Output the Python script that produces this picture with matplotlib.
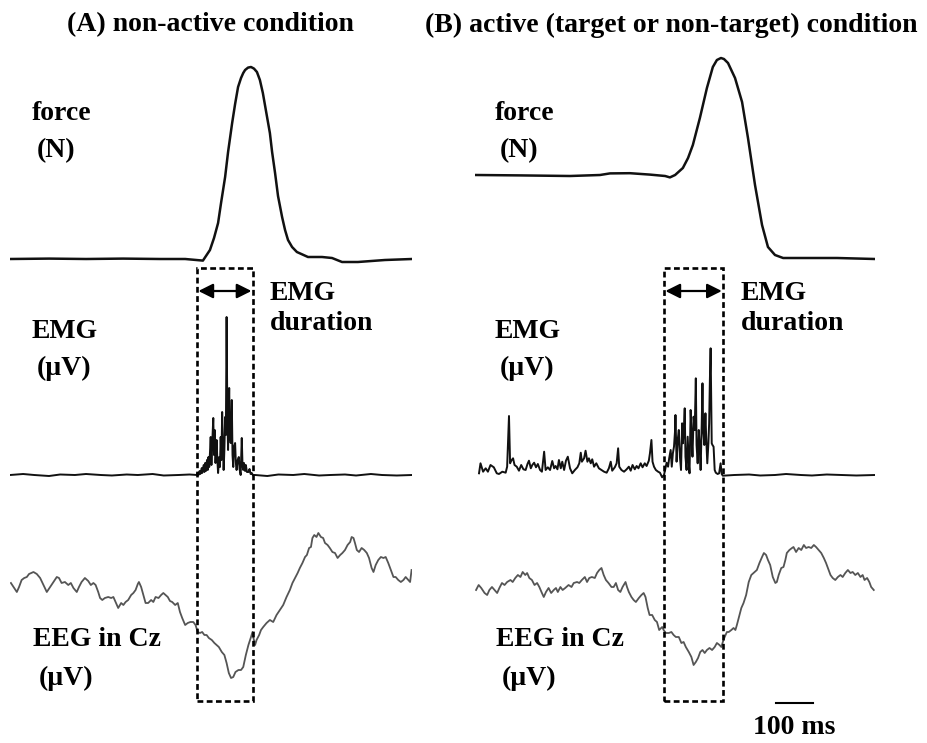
import numpy as np
import matplotlib
matplotlib.use("Agg")
import matplotlib.pyplot as plt
from matplotlib.patches import Rectangle
from matplotlib.transforms import blended_transform_factory

# time in ms relative to EMG onset, force in N, EMG and EEG in uV

# (A) non-active condition
force_a = [(-505, 0.0), (-400, 0.02), (-300, 0.0), (-200, 0.02), (-100, 0.0), (-32, 0.0),
           (16, -0.08), (35, 0.45), (46, 1.05), (57, 1.8), (65, 2.8), (76, 4.1), (84, 5.35),
           (95, 6.8), (103, 7.75), (111, 8.6), (119, 9.05), (125, 9.3), (130, 9.45),
           (138, 9.57), (146, 9.6), (154, 9.52), (162, 9.35), (170, 8.95), (178, 8.3),
           (187, 7.35), (197, 6.3), (203, 5.35), (211, 4.3), (219, 3.15), (230, 2.1),
           (238, 1.45), (246, 0.95), (257, 0.6), (270, 0.35), (300, 0.1), (338, 0.1),
           (365, 0.05), (392, -0.15), (435, -0.15), (508, -0.05), (581, 0.0)]

emg_a = [(-505, 0), (-470, 1), (-440, 0), (-400, -1), (-370, 0.5), (-330, 0), (-300, 1),
         (-260, 0), (-230, -0.5), (-190, 0.5), (-160, 0), (-120, 1), (-90, -0.5), (-50, 0),
         (-20, 0.5), (0, 0), (1, 2), (4, 0), (7, 4), (9, 1), (13, 7), (14, 2), (18, 10),
         (20, 3), (22, 12), (24, 4), (27, 15), (29, 5), (31, 18), (33, 8), (35, 22), (37, 38),
         (39, 10), (41, 30), (44, 57), (46, 20), (48, 45), (50, 12), (53, 35), (55, 15),
         (57, 2), (60, 18), (62, 8), (64, 38), (66, 15), (68, 63), (70, 30), (72, 5), (74, 25),
         (76, 58), (78, 40), (80, 158), (82, 60), (84, 25), (86, 70), (87, 87), (89, 40),
         (91, 32), (93, 55), (94, 75), (96, 20), (98, 8), (100, 28), (103, 32), (105, 12),
         (107, 5), (110, 15), (113, 18), (115, 6), (118, 0), (121, 37), (123, 10), (125, 5),
         (127, 12), (130, 4), (132, 10), (135, 3), (139, 3), (142, 6), (145, 1), (148, 2),
         (151, 0), (157, 0), (190, -1), (220, 0.5), (260, 0), (290, 1), (330, -0.5), (360, 0),
         (400, 0.5), (430, -0.5), (470, 1), (500, 0), (540, -0.5), (581, 0)]

eeg_a = [(-503, 1.7), (-496, 1.3), (-487, 0.8), (-481, 1.3), (-474, 2.0), (-467, 2.2),
         (-460, 2.3), (-454, 2.6), (-442, 2.8), (-433, 2.6), (-424, 2.2), (-415, 1.5),
         (-406, 0.8), (-397, 1.3), (-388, 1.8), (-379, 2.3), (-373, 2.2), (-366, 1.7),
         (-357, 1.8), (-348, 1.5), (-341, 1.7), (-334, 1.2), (-325, 0.8), (-319, 1.3),
         (-312, 1.8), (-303, 2.2), (-294, 1.9), (-287, 1.5), (-280, 1.7), (-274, 1.5),
         (-267, 0.8), (-262, 0.2), (-256, 0.0), (-249, 0.2), (-240, 0.3), (-232, 0.2),
         (-226, 0.3), (-220, -0.2), (-213, -0.8), (-205, -0.3), (-199, -0.5), (-193, -0.2),
         (-186, 0.0), (-178, 0.5), (-172, 0.7), (-166, 1.0), (-160, 1.6), (-157, 1.8),
         (-151, 1.3), (-145, 0.5), (-139, -0.3), (-132, -0.3), (-124, 0.0), (-118, -0.2),
         (-112, 0.3), (-104, 0.2), (-97, 0.5), (-91, 0.7), (-85, 0.5), (-79, 0.3),
         (-73, -0.1), (-67, -0.2), (-59, -0.5), (-52, -0.3), (-46, -1.2), (-40, -1.8),
         (-32, -2.5), (-25, -2.3), (-18, -2.2), (-10, -2.2), (-4, -2.5), (2, -3.2), (8, -3.3),
         (14, -3.2), (20, -3.5), (26, -3.5), (32, -3.8), (40, -4.0), (47, -4.3), (53, -4.5),
         (59, -4.7), (67, -5.2), (74, -5.5), (80, -6.3), (86, -7.3), (92, -7.8), (98, -7.7),
         (104, -7.2), (112, -7.0), (119, -7.0), (125, -6.7), (132, -5.5), (139, -4.5),
         (146, -3.7), (150, -3.2), (152, -3.7), (157, -4.5), (161, -4.0), (168, -3.5),
         (173, -3.0), (179, -2.7), (188, -2.3), (197, -2.0), (206, -2.2), (215, -1.5),
         (224, -1.0), (233, -0.5), (242, 0.3), (251, 1.0), (258, 1.7), (265, 2.2), (272, 2.7),
         (278, 3.2), (285, 3.7), (292, 4.3), (297, 4.5), (303, 5.2), (308, 5.3), (312, 6.2),
         (317, 6.5), (323, 6.3), (328, 6.7), (335, 6.3), (341, 6.2), (346, 5.7), (353, 5.5),
         (359, 5.2), (366, 4.8), (373, 4.7), (380, 4.2), (387, 4.5), (393, 4.7), (400, 5.0),
         (407, 5.5), (414, 5.8), (418, 6.3), (423, 6.2), (427, 5.7), (432, 5.0), (438, 4.8),
         (445, 5.2), (452, 5.0), (459, 4.7), (465, 4.2), (472, 3.2), (477, 2.8), (483, 3.5),
         (490, 4.0), (497, 4.3), (504, 4.2), (510, 4.3), (517, 3.7), (524, 3.0), (531, 2.3),
         (537, 2.3), (544, 2.0), (551, 1.8), (558, 2.0), (564, 2.3), (571, 2.0), (576, 1.8),
         (580, 3.0)]

# (B) active condition
force_b = [(-510, 4.2), (-389, 4.18), (-254, 4.15), (-173, 4.2), (-146, 4.28), (-92, 4.29),
           (-38, 4.22), (3, 4.15), (16, 4.08), (30, 4.2), (51, 4.55), (65, 5.05), (78, 5.7),
           (97, 7.05), (116, 8.55), (132, 9.6), (143, 9.95), (154, 10.05), (162, 10.0),
           (173, 9.8), (192, 9.05), (211, 7.85), (227, 6.05), (246, 3.7), (265, 1.7),
           (281, 0.6), (300, 0.2), (322, 0.05), (376, 0.05), (468, 0.05), (570, 0.0)]

emg_b = [(-500, 1.7), (-496, 11.7), (-489, 3.3), (-482, 6.7), (-476, 3.3), (-469, 10),
         (-460, 7.7), (-452, 1.7), (-446, 1), (-437, 3.3), (-428, 2.3), (-424, 8.3),
         (-419, 59), (-416, 11.7), (-413, 14.3), (-408, 16.7), (-404, 10), (-398, 8.3),
         (-392, 4.3), (-386, 10), (-380, 5.7), (-374, 5), (-369, 11), (-365, 14.3),
         (-360, 6.7), (-356, 10), (-351, 12.3), (-346, 7.7), (-341, 11), (-335, 5),
         (-330, 3.3), (-324, 23.3), (-320, 5), (-314, 7.7), (-308, 5), (-302, 14),
         (-297, 6.7), (-293, 9), (-288, 5.7), (-284, 15), (-279, 6.7), (-275, 13.3),
         (-270, 5), (-265, 14.3), (-260, 18.3), (-254, 6.7), (-248, 1.7), (-241, 5),
         (-234, 7.7), (-229, 11.7), (-225, 22.3), (-222, 13.3), (-216, 16.7), (-212, 24.3),
         (-207, 13.3), (-203, 16.7), (-198, 11.7), (-194, 15.7), (-189, 8.3), (-183, 11.7),
         (-176, 6.7), (-169, 5), (-162, 3.3), (-155, 2.3), (-149, 6.7), (-144, 13.3),
         (-140, 4.3), (-133, 7.7), (-128, 11.7), (-124, 26.7), (-121, 8.3), (-115, 5),
         (-108, 3.3), (-101, 5.7), (-95, 8.3), (-90, 4.3), (-85, 10), (-79, 5.7), (-74, 9),
         (-69, 6.7), (-63, 11.7), (-58, 7.7), (-52, 11.7), (-47, 9), (-41, 14.3), (-38, 21.7),
         (-34, 35), (-31, 13.3), (-27, 8.3), (-22, 5), (-16, 3.3), (-11, 2.3), (-5, -2.3),
         (0, 0), (3, 5), (7, 12.3), (11, 8.3), (14, 16.7), (18, 25), (21, 8.3), (24, 21.7),
         (27, 28.3), (30, 45), (31, 60), (34, 13.3), (37, 35), (40, 45), (43, 18.3), (46, 5),
         (49, 51.7), (51, 31.7), (54, 48.3), (56, 66.7), (58, 18.3), (61, 5), (64, 38.3),
         (67, 11.7), (69, 1.7), (72, 65), (75, 35), (77, 18.3), (80, 58.3), (83, 45),
         (86, 96.7), (88, 30), (91, 11.7), (94, 45), (96, 31.7), (99, 5), (102, 51.7),
         (104, 91.7), (106, 45), (109, 30), (112, 61.7), (114, 38.3), (117, 11.7), (120, 31.7),
         (122, 51.7), (124, 95), (126, 126.7), (129, 31.7), (131, 30), (134, 28.3), (137, 5),
         (140, 2.3), (145, 1), (149, 1.7), (153, 11.7), (156, 1), (159, -0.7), (190, 0),
         (230, 0.5), (260, -0.5), (300, 0), (330, 1), (370, 0), (400, -0.5), (440, 0.5),
         (480, 0), (520, -0.5), (570, 0)]

eeg_b = [(-508, 1.0), (-501, 1.5), (-494, 1.2), (-485, 0.7), (-478, 0.5), (-472, 1.0),
         (-465, 1.3), (-458, 1.0), (-451, 0.7), (-445, 1.2), (-438, 1.7), (-431, 1.5),
         (-424, 1.8), (-415, 2.0), (-409, 1.8), (-402, 2.2), (-395, 2.5), (-388, 2.3),
         (-382, 2.8), (-375, 2.5), (-370, 2.7), (-364, 2.2), (-357, 2.0), (-350, 1.5),
         (-343, 1.7), (-337, 1.3), (-330, 0.7), (-325, 0.3), (-319, 0.8), (-312, 1.2),
         (-305, 0.7), (-298, 1.0), (-292, 1.2), (-287, 0.8), (-280, 1.3), (-274, 1.0),
         (-267, 1.2), (-258, 1.5), (-250, 1.3), (-244, 1.7), (-235, 1.8), (-229, 1.7),
         (-222, 2.0), (-214, 2.3), (-208, 1.8), (-202, 2.2), (-195, 2.3), (-187, 2.2),
         (-181, 2.7), (-175, 3.0), (-169, 3.2), (-163, 2.5), (-157, 2.0), (-150, 1.7),
         (-142, 1.3), (-136, 1.3), (-130, 1.7), (-124, 1.0), (-118, 0.8), (-112, 1.3),
         (-104, 1.8), (-100, 1.3), (-95, 0.8), (-88, 0.3), (-82, 0.0), (-76, -0.2),
         (-68, 0.2), (-61, 0.5), (-55, 0.7), (-50, 0.3), (-44, -0.8), (-39, -1.5),
         (-32, -1.5), (-25, -2.0), (-19, -2.2), (-13, -3.0), (-5, -2.7), (-1, -3.0),
         (5, -3.3), (13, -3.3), (20, -3.2), (26, -3.5), (32, -3.7), (40, -3.7), (47, -4.3),
         (53, -4.2), (59, -4.7), (67, -5.2), (74, -5.7), (80, -6.5), (86, -6.2), (92, -5.8),
         (98, -5.2), (104, -5.0), (110, -5.3), (116, -5.0), (123, -4.8), (130, -5.0),
         (137, -4.7), (143, -4.3), (150, -4.5), (155, -4.7), (159, -4.2), (164, -3.7),
         (170, -3.2), (175, -3.2), (182, -3.0), (188, -2.8), (193, -3.0), (197, -2.5),
         (202, -1.8), (209, -0.8), (215, -0.3), (222, 0.5), (229, 1.8), (236, 2.5), (242, 2.7),
         (251, 3.0), (258, 3.7), (265, 4.3), (270, 4.7), (276, 4.5), (281, 4.0), (287, 3.5),
         (294, 2.3), (301, 1.7), (305, 1.8), (310, 2.5), (317, 3.2), (323, 3.3), (328, 4.0),
         (332, 4.7), (339, 5.0), (346, 5.2), (350, 5.3), (357, 4.8), (364, 5.2), (371, 5.0),
         (378, 5.5), (384, 5.2), (391, 5.3), (398, 5.2), (405, 5.5), (411, 5.3), (418, 5.0),
         (425, 4.7), (432, 4.2), (438, 3.7), (443, 3.2), (450, 2.5), (456, 2.2), (463, 2.0),
         (470, 2.3), (477, 2.5), (483, 2.3), (490, 2.7), (497, 3.0), (504, 2.7), (510, 2.8),
         (517, 2.5), (524, 2.7), (531, 2.3), (537, 2.5), (542, 2.0), (549, 2.2), (555, 1.8),
         (560, 1.3), (567, 1.0)]

# EMG onset/offset (ms) for the duration boxes
emg_window_a = (0, 151)
emg_window_b = (0, 160)
scale_bar_ms = 100

W, H = 928, 743
plt.rcParams['font.family'] = ['Liberation Serif', 'DejaVu Serif']
plt.rcParams['font.weight'] = 'bold'
FS = 20

fig = plt.figure(figsize=(W / 100, H / 100), dpi=100)


def px_rect(x0, y0, x1, y1):
    return [x0 / W, 1 - y1 / H, (x1 - x0) / W, (y1 - y0) / H]


def fig_xy(x, y):
    return x / W, 1 - y / H


MS_PER_PX = 2.703


def panel(onset_px, tmin, tmax, force, emg, eeg, window):
    x0 = onset_px + tmin / MS_PER_PX
    x1 = onset_px + tmax / MS_PER_PX
    ax_f = fig.add_axes(px_rect(x0, 40, x1, 270))
    ax_m = fig.add_axes(px_rect(x0, 300, x1, 490))
    ax_e = fig.add_axes(px_rect(x0, 510, x1, 743))
    for ax in (ax_f, ax_m, ax_e):
        ax.set_xlim(tmin, tmax)
        ax.axis('off')
    ax_f.set_ylim(-0.55, 10.95)
    ax_m.set_ylim(-15, 175)
    ax_e.set_ylim(-14.3, 9.0)

    t, v = np.array(force).T
    ax_f.plot(t, v, color='#111111', lw=1.8, solid_joinstyle='round')
    t, v = np.array(emg).T
    ax_m.plot(t, v, color='#111111', lw=1.4)
    t, v = np.array(eeg).T
    ax_e.plot(t, v, color='#555555', lw=1.3)

    # dashed box spanning EMG and EEG rows
    tr = blended_transform_factory(ax_m.transData, fig.transFigure)
    y_bot = 1 - 701 / H
    y_top = 1 - 268 / H
    box = Rectangle((window[0], y_bot), window[1] - window[0], y_top - y_bot,
                    transform=tr, fill=False, ec='black', lw=1.9,
                    ls=(0, (2.2, 1.3)), clip_on=False)
    fig.add_artist(box)
    y_arr = 1 - 291 / H
    ax_m.annotate('', xy=(window[1], y_arr), xytext=(window[0], y_arr),
                  xycoords=tr, textcoords=tr,
                  arrowprops=dict(arrowstyle='<|-|>', color='black', lw=1.6,
                                  mutation_scale=22, shrinkA=1, shrinkB=1))
    return ax_f, ax_m, ax_e


axes_a = panel(197, -505, 581, force_a, emg_a, eeg_a, emg_window_a)
axes_b = panel(664, -510, 570, force_b, emg_b, eeg_b, emg_window_b)

# 100 ms scale bar under panel B
ax_e_b = axes_b[2]
ax_e_b.plot([303, 303 + scale_bar_ms], [-10.3, -10.3], color='black', lw=1.5,
            clip_on=False)
ax_e_b.text(303 + scale_bar_ms / 2, -12.8, '100 ms', ha='center', va='center',
            fontsize=FS, fontweight='bold')

# titles and row labels
fig.text(*fig_xy(210, 25), '(A) non-active condition', ha='center', va='center',
         fontsize=FS, fontweight='bold')
fig.text(*fig_xy(671, 25), '(B) active (target or non-target) condition', ha='center',
         va='center', fontsize=FS, fontweight='bold')

for x_left, x_dur in ((32, 270), (495, 741)):
    fig.text(*fig_xy(x_left, 113), 'force', ha='left', va='center', fontsize=FS)
    fig.text(*fig_xy(x_left + 5, 151), '(N)', ha='left', va='center', fontsize=FS)
    fig.text(*fig_xy(x_left, 332), 'EMG', ha='left', va='center', fontsize=FS)
    fig.text(*fig_xy(x_left + 5, 368), '(\u00b5V)', ha='left', va='center', fontsize=FS)
    fig.text(*fig_xy(x_left + 1, 639), 'EEG in Cz', ha='left', va='center', fontsize=FS)
    fig.text(*fig_xy(x_left + 7, 678), '(\u00b5V)', ha='left', va='center', fontsize=FS)
    fig.text(*fig_xy(x_dur, 293), 'EMG', ha='left', va='center', fontsize=FS)
    fig.text(*fig_xy(x_dur, 324), 'duration', ha='left', va='center', fontsize=FS)

fig.savefig('out.png', dpi=100, facecolor='white')
